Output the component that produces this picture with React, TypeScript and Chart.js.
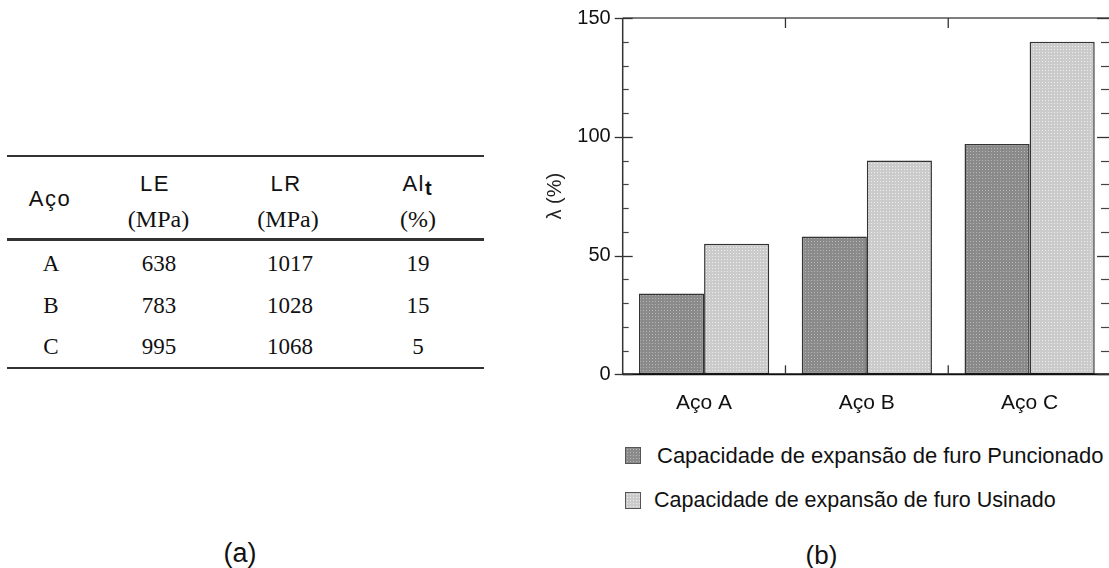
import React, { useEffect, useRef, useState } from 'react';
import { Chart, registerables } from 'chart.js';

Chart.register(...registerables);

// ---- chart data ----
const categories = ['Aço A', 'Aço B', 'Aço C'];
const puncionado = [34, 58, 97];
const usinado = [55, 90, 140];
const yMin = 0;
const yMax = 150;
const yStep = 50;
const yMinorStep = 10;
const yTitle = 'λ (%)';
const legendLabels = [
  'Capacidade de expansão de furo Puncionado',
  'Capacidade de expansão de furo Usinado',
];

// ---- table data ----
const steelNames = ['A', 'B', 'C'];
const leValues = [638, 783, 995];
const lrValues = [1017, 1028, 1068];
const altValues = [19, 15, 5];

const SANS = '"Liberation Sans", Arial, Helvetica, sans-serif';
const SERIF = '"Liberation Serif", "Times New Roman", serif';

function makePatternCanvas(base: string, dot: string): HTMLCanvasElement {
  const c = document.createElement('canvas');
  c.width = 3;
  c.height = 3;
  const g = c.getContext('2d')!;
  g.fillStyle = base;
  g.fillRect(0, 0, 3, 3);
  g.fillStyle = dot;
  g.fillRect(1, 1, 1, 1);
  return c;
}

const framePlugin = {
  id: 'frame',
  afterDatasetsDraw(chart: any) {
    const { ctx, chartArea, scales } = chart;
    const { left, right, top, bottom } = chartArea;
    const x = scales.x;
    const y = scales.y;
    const line = (x1: number, y1: number, x2: number, y2: number, w: number, c: string) => {
      ctx.beginPath();
      ctx.lineWidth = w;
      ctx.strokeStyle = c;
      ctx.moveTo(x1, y1);
      ctx.lineTo(x2, y2);
      ctx.stroke();
    };
    ctx.save();
    line(left, top, right, top, 1.3, '#555');
    line(left, top, left, bottom, 1.5, '#333');
    line(right, top, right, bottom, 1.5, '#333');
    line(left, bottom, right, bottom, 2, '#111');
    for (let v = yMin; v <= yMax; v += yMinorStep) {
      const py = Math.round(y.getPixelForValue(v)) + 0.5;
      if (v % yStep === 0) {
        line(left - 8, py, left + 10, py, 1.3, '#333');
        line(right - 14, py, right, py, 1.3, '#333');
      } else {
        line(left, py, left + 6, py, 1.2, '#444');
        line(right - 10, py, right, py, 1.2, '#444');
      }
    }
    for (let i = 0; i < categories.length - 1; i++) {
      const bx = (x.getPixelForValue(i) + x.getPixelForValue(i + 1)) / 2;
      line(bx, top, bx, top + 10, 1.3, '#333');
      line(bx, bottom, bx, bottom - 9, 1.3, '#333');
    }
    ctx.restore();
  },
};

function BarChart({ patterns }: { patterns: HTMLCanvasElement[] }) {
  const ref = useRef<HTMLCanvasElement | null>(null);
  useEffect(() => {
    const canvas = ref.current!;
    const ctx = canvas.getContext('2d')!;
    const p0 = ctx.createPattern(patterns[0], 'repeat')!;
    const p1 = ctx.createPattern(patterns[1], 'repeat')!;
    const chart = new Chart(canvas, {
      type: 'bar',
      data: {
        labels: categories,
        datasets: [
          {
            label: legendLabels[0],
            data: puncionado,
            backgroundColor: p0 as any,
            borderColor: '#333',
            borderWidth: 1.5,
            borderSkipped: false,
            categoryPercentage: 0.8,
            barPercentage: 1.0,
          },
          {
            label: legendLabels[1],
            data: usinado,
            backgroundColor: p1 as any,
            borderColor: '#333',
            borderWidth: 1.5,
            borderSkipped: false,
            categoryPercentage: 0.8,
            barPercentage: 1.0,
          },
        ],
      },
      options: {
        responsive: false,
        animation: false,
        devicePixelRatio: 1,
        layout: { padding: { top: 18, right: 4, bottom: 0, left: 0 } },
        plugins: {
          legend: { display: false },
          tooltip: { enabled: false },
        },
        scales: {
          x: {
            grid: { display: false, drawTicks: false },
            border: { display: false },
            ticks: {
              padding: 16,
              color: '#111',
              font: { family: SANS, size: 21 },
            },
            afterFit: (s: any) => {
              s.height = 420 - 374.3;
              s.paddingLeft = 0;
              s.paddingRight = 0;
            },
          },
          y: {
            min: yMin,
            max: yMax,
            grid: { display: false, drawTicks: false },
            border: { display: false },
            ticks: {
              stepSize: yStep,
              padding: 12,
              color: '#111',
              font: { family: SANS, size: 20 },
            },
            title: {
              display: true,
              text: yTitle,
              color: '#222',
              padding: { top: 3, bottom: 0 },
              font: { family: SANS, size: 20 },
            },
            afterFit: (s: any) => {
              s.width = 82.7;
              s.paddingTop = 0;
              s.paddingBottom = 0;
            },
          },
        },
      },
      plugins: [framePlugin],
    });
    return () => chart.destroy();
  }, [patterns]);
  return (
    <canvas
      ref={ref}
      width={575}
      height={420}
      style={{ position: 'absolute', left: 540, top: 0, width: 575, height: 420, display: 'block' }}
    />
  );
}

function Cell({ x, y, children, style }: { x: number; y: number; children: any; style?: any }) {
  return (
    <div
      style={{
        position: 'absolute',
        left: x,
        top: y,
        transform: 'translate(-50%, -50%)',
        whiteSpace: 'nowrap',
        lineHeight: 1,
        color: '#111',
        ...style,
      }}
    >
      {children}
    </div>
  );
}

function Rule({ y, w }: { y: number; w: number }) {
  return (
    <div
      style={{ position: 'absolute', left: 7, top: y - w / 2, width: 477, height: w, background: '#333' }}
    />
  );
}

export default function App() {
  const [patterns] = useState(() => [
    makePatternCanvas('#8a8a8a', '#b6b6b6'),
    makePatternCanvas('#cbcbcb', '#ededed'),
  ]);
  const [urls] = useState(() => patterns.map((c) => c.toDataURL()));

  const rowYs = [263, 305, 346];
  const hdrSans = { fontFamily: SANS, fontSize: 22, letterSpacing: '1.5px' };
  const serif = { fontFamily: SERIF, fontSize: 23 };

  return (
    <div
      style={{
        position: 'fixed',
        left: 0,
        top: 0,
        width: 1109,
        height: 568,
        overflow: 'hidden',
        background: '#fff',
      }}
    >
      {/* (a) table */}
      <Rule y={156} w={2} />
      <Rule y={239.5} w={2.5} />
      <Rule y={368} w={2} />
      <Cell x={50} y={199} style={hdrSans}>Aço</Cell>
      <Cell x={155} y={184} style={hdrSans}>LE</Cell>
      <Cell x={286} y={184} style={hdrSans}>LR</Cell>
      <Cell x={417} y={184} style={hdrSans}>
        Al<span style={{ position: 'relative', top: 4, fontWeight: 'bold', fontSize: 20, letterSpacing: 0 }}>t</span>
      </Cell>
      <Cell x={158.5} y={219} style={{ fontFamily: SERIF, fontSize: 24 }}>(MPa)</Cell>
      <Cell x={288} y={219} style={{ fontFamily: SERIF, fontSize: 24 }}>(MPa)</Cell>
      <Cell x={418} y={219} style={{ fontFamily: SERIF, fontSize: 24 }}>(%)</Cell>
      {steelNames.map((s, i) => (
        <React.Fragment key={s}>
          <Cell x={51} y={rowYs[i]} style={serif}>{s}</Cell>
          <Cell x={159} y={rowYs[i]} style={serif}>{leValues[i]}</Cell>
          <Cell x={290} y={rowYs[i]} style={serif}>{lrValues[i]}</Cell>
          <Cell x={418} y={rowYs[i]} style={serif}>{altValues[i]}</Cell>
        </React.Fragment>
      ))}
      <Cell x={240} y={553} style={{ fontFamily: SANS, fontSize: 27 }}>(a)</Cell>

      {/* (b) chart */}
      <BarChart patterns={patterns} />
      {legendLabels.map((label, i) => (
        <React.Fragment key={label}>
          <div
            style={{
              position: 'absolute',
              left: 625,
              top: i === 0 ? 447 : 491.5,
              width: 14,
              height: 15,
              border: '1px solid #555',
              backgroundImage: `url(${urls[i]})`,
            }}
          />
          <div
            style={{
              position: 'absolute',
              left: i === 0 ? 657 : 654,
              top: (i === 0 ? 455.5 : 499.5) - 12,
              height: 24,
              lineHeight: '24px',
              fontFamily: SANS,
              fontSize: i === 0 ? 22 : 21.5,
              color: '#111',
              whiteSpace: 'nowrap',
            }}
          >
            {label}
          </div>
        </React.Fragment>
      ))}
      <Cell x={821.5} y={555} style={{ fontFamily: SANS, fontSize: 26 }}>(b)</Cell>
    </div>
  );
}
